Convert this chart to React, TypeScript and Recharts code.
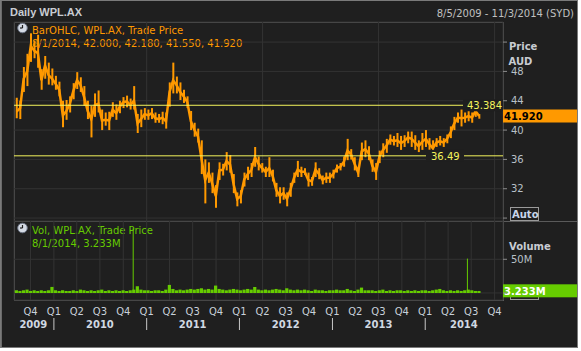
import React from "react";
import {
  Bar,
  CartesianGrid,
  ComposedChart,
  Line,
  ReferenceLine,
  XAxis,
  YAxis,
} from "recharts";

const DAY = 86400000;
const ts = (d: string) => Date.parse(`${d}T00:00:00Z`);

// one bar every two weeks, first one on 7 Aug 2009
const firstBarDate = "2009-08-07";
const barStepDays = 14;
const axisStart = "2009-07-28";
const axisEnd = "2014-11-03";

const priceLow = [
  41.6, 41.5, 45.2, 46.0, 49.3, 49.8, 48.5, 45.5, 47.0, 46.2,
  46.1, 45.5, 44.6, 40.4, 41.4, 42.4, 44.2, 45.6, 45.2, 43.3,
  41.5, 39.0, 41.8, 42.4, 40.0, 40.6, 40.0, 41.8, 41.4, 42.3,
  43.0, 43.1, 42.8, 42.8, 39.6, 40.4, 41.4, 41.4, 41.5, 41.0,
  41.0, 40.8, 40.2, 43.2, 45.0, 45.0, 44.1, 43.7, 43.0, 40.0,
  39.1, 38.3, 34.0, 30.0, 32.8, 31.4, 29.4, 33.2, 33.8, 34.5,
  34.2, 31.4, 29.6, 30.0, 32.3, 33.2, 33.6, 35.0, 34.5, 34.2,
  33.6, 33.6, 33.0, 30.9, 30.0, 30.5, 29.6, 30.9, 32.8, 33.6,
  33.6, 33.9, 32.3, 32.4, 33.6, 33.3, 32.6, 32.8, 32.8, 33.4,
  34.2, 34.5, 35.0, 35.9, 36.0, 34.5, 33.6, 35.9, 36.3, 35.9,
  34.3, 33.2, 35.5, 36.3, 36.9, 38.0, 37.9, 37.7, 37.3, 37.7,
  38.2, 37.7, 37.3, 37.0, 37.3, 37.7, 37.3, 36.49, 37.7, 37.9,
  37.7, 38.2, 38.9, 40.0, 41.0, 40.5, 41.0, 41.2, 41.0, 41.8, 41.55,
];

const priceHigh = [
  44.4, 44.0, 48.6, 50.4, 53.2, 52.2, 53.0, 48.3, 50.1, 49.2,
  48.4, 47.4, 46.6, 44.0, 44.1, 44.6, 46.4, 47.9, 47.2, 46.0,
  44.0, 43.3, 45.0, 45.4, 42.8, 42.4, 42.5, 43.8, 43.5, 44.0,
  44.5, 44.7, 44.3, 46.0, 42.2, 42.8, 43.0, 42.8, 43.0, 42.4,
  42.2, 42.5, 42.4, 46.5, 49.2, 47.3, 46.5, 45.5, 44.6, 42.6,
  41.0, 40.2, 38.6, 36.0, 35.6, 34.2, 32.5, 35.6, 35.4, 37.0,
  36.6, 34.0, 31.5, 31.8, 34.2, 35.0, 35.5, 37.7, 36.4, 35.5,
  35.0, 36.3, 34.6, 32.8, 32.2, 32.2, 31.5, 32.8, 34.2, 35.8,
  35.0, 34.8, 34.2, 33.6, 35.6, 34.8, 33.8, 34.2, 34.2, 34.6,
  35.3, 35.5, 36.4, 38.8, 37.4, 36.3, 35.0, 38.3, 38.6, 37.8,
  36.0, 35.5, 37.2, 38.2, 38.8, 39.4, 39.2, 39.6, 39.2, 39.3,
  39.8, 39.8, 39.3, 38.6, 39.6, 40.0, 38.9, 38.6, 38.9, 39.2,
  38.9, 39.4, 40.5, 41.8, 42.4, 42.8, 42.4, 42.6, 42.4, 43.384, 42.18,
];

// typical close inside each two-week bar
const priceClose = [
  42.5, 43.0, 47.0, 48.0, 51.5, 50.8, 50.5, 46.8, 48.8, 47.5,
  47.0, 46.3, 45.5, 42.0, 42.6, 43.6, 45.4, 46.8, 46.1, 44.5,
  42.6, 41.5, 43.4, 43.6, 41.3, 41.4, 41.3, 42.8, 42.3, 43.2,
  43.8, 43.9, 43.4, 44.0, 40.9, 41.5, 42.2, 42.0, 42.3, 41.6,
  41.5, 41.7, 41.2, 45.2, 46.8, 46.1, 45.2, 44.6, 43.8, 41.2,
  40.0, 39.1, 36.0, 33.2, 34.2, 32.7, 31.0, 34.5, 34.6, 35.8,
  35.3, 32.6, 30.6, 31.0, 33.3, 34.0, 34.6, 36.3, 35.4, 34.8,
  34.3, 34.8, 33.7, 31.8, 31.0, 31.4, 30.6, 31.9, 33.5, 34.6,
  34.3, 34.3, 33.2, 33.0, 34.6, 34.0, 33.2, 33.5, 33.5, 34.0,
  34.8, 35.0, 35.7, 37.2, 36.7, 35.4, 34.2, 37.1, 37.4, 36.8,
  35.1, 34.3, 36.4, 37.3, 37.9, 38.7, 38.5, 38.6, 38.2, 38.5,
  39.0, 38.8, 38.3, 37.8, 38.4, 38.8, 38.1, 37.5, 38.3, 38.5,
  38.3, 38.8, 39.7, 40.9, 41.7, 41.6, 41.7, 41.9, 41.7, 42.6, 41.92,
];

// volume in millions of shares
const volumeM = [
  4, 3, 4, 5, 3, 4, 3, 4, 3, 4,
  9, 4, 3, 4, 3, 3, 4, 3, 5, 4,
  3, 4, 3, 4, 5, 3, 4, 3, 4, 3,
  4, 3, 4, 5, 10, 5, 4, 4, 3, 4,
  4, 3, 5, 12, 6, 4, 5, 4, 5, 6,
  5, 6, 7, 5, 6, 5, 11, 6, 5, 4,
  5, 6, 5, 4, 5, 6, 5, 9, 5, 4,
  5, 4, 5, 6, 5, 4, 7, 5, 4, 5,
  4, 5, 4, 3, 5, 4, 4, 3, 4, 4,
  5, 4, 4, 6, 4, 3, 5, 8, 4, 4,
  4, 3, 4, 5, 3, 4, 3, 4, 4, 3,
  4, 3, 4, 3, 4, 4, 3, 4, 5, 6,
  4, 3, 4, 3, 4, 3, 4, 5, 4, 3, 3,
];

const spikeDates = ["2010-11-09", "2014-06-16"];
const spikeVolumeM = [96, 51];

const lastBarDate = "8/1/2014";
const lastOpen = 42.0;
const lastHigh = 42.18;
const lastLow = 41.55;
const lastClose = 41.92;
const lastVolumeM = 3.233;
const periodHigh = 43.384;
const periodLow = 36.49;

const priceTicks = [28, 32, 36, 40, 44, 48, 52];
const priceLabelTicks = [32, 36, 40, 44, 48];
const volumeTicks = [0, 50];

const quarterDates = [
  "2009-10-01",
  "2010-01-01", "2010-04-01", "2010-07-01", "2010-10-01",
  "2011-01-01", "2011-04-01", "2011-07-01", "2011-10-01",
  "2012-01-01", "2012-04-01", "2012-07-01", "2012-10-01",
  "2013-01-01", "2013-04-01", "2013-07-01", "2013-10-01",
  "2014-01-01", "2014-04-01", "2014-07-01", "2014-10-01",
];
const yearLabels = ["2009", "2010", "2011", "2012", "2013", "2014"];
const yearLabelDates = [
  "2009-10-12", "2010-07-01", "2011-07-01", "2012-07-01", "2013-07-01", "2014-06-02",
];

const BG = "#1f1f1f";
const GRID = "#333333";
const FRAME = "#5a5a5a";
const ORANGE = "#ff9900";
const GREEN = "#66cc00";
const YELLOW = "#f4f45c";
const AXIS_TEXT = "#b8c0c8";
const FONT = "'DejaVu Sans', Verdana, sans-serif";

const start = ts(firstBarDate);
const priceData = priceLow.map((lo, i) => ({
  t: start + i * barStepDays * DAY,
  range: [lo, priceHigh[i]],
  close: priceClose[i],
}));
const volumeData = volumeM.map((v, i) => ({
  t: start + i * barStepDays * DAY,
  vol: v,
}));
const xDomain = [ts(axisStart), ts(axisEnd)];
const quarterTimes = quarterDates.map(ts);
const yearLabelTimes = yearLabelDates.map(ts);

function PriceTick({ x, y, payload }: any) {
  if (!priceLabelTicks.includes(payload.value)) return <g />;
  return (
    <text x={x} y={y + 3.6} fill={AXIS_TEXT} fontSize={10} fontFamily={FONT}>
      {payload.value}
    </text>
  );
}

function VolumeTick({ x, y, payload }: any) {
  if (payload.value === 0) return <g />;
  return (
    <text x={x} y={y + 3.6} fill={AXIS_TEXT} fontSize={10} fontFamily={FONT}>
      {`${payload.value}M`}
    </text>
  );
}

function QuarterTick({ x, y, payload }: any) {
  const d = new Date(payload.value);
  const m = d.getUTCMonth();
  return (
    <g>
      <text x={x} y={y + 15} textAnchor="middle" fill="#c8d0da" fontSize={10} fontFamily={FONT}>
        {`Q${Math.floor(m / 3) + 1}`}
      </text>
      {m === 0 && <line x1={x} x2={x} y1={y + 18} y2={y + 30} stroke="#c8c8c8" />}
    </g>
  );
}

function YearTick({ x, y, payload }: any) {
  const i = yearLabelTimes.indexOf(payload.value);
  return (
    <text
      x={x}
      y={y + 16}
      textAnchor="middle"
      fill="#d0d8e2"
      fontSize={10}
      fontWeight="bold"
      fontFamily={FONT}
    >
      {yearLabels[i]}
    </text>
  );
}

function LevelTag({ viewBox, text, dx, gapX, gapW }: any) {
  const { x, y } = viewBox;
  return (
    <g>
      <rect x={x + gapX} y={y - 6} width={gapW} height={12} fill={BG} />
      <text x={x + dx} y={y + 3.8} fill={YELLOW} fontSize={10} fontFamily={FONT}>
        {text}
      </text>
    </g>
  );
}

function ValueTag({ viewBox, text, fill, color }: any) {
  const { x, y, width } = viewBox;
  const right = x + width;
  return (
    <g>
      <rect x={right} y={y - 6.5} width={74} height={13} fill={fill} />
      <text
        x={right + 1}
        y={y + 3.8}
        fill={color}
        fontSize={10}
        fontWeight="bold"
        fontFamily={FONT}
      >
        {text}
      </text>
    </g>
  );
}

function Clock({ cx, cy }: { cx: number; cy: number }) {
  return (
    <g>
      <circle cx={cx} cy={cy} r={4.8} fill="#d4dae4" stroke="#6a7282" strokeWidth={1} />
      <line x1={cx} y1={cy} x2={cx} y2={cy - 3} stroke="#202020" strokeWidth={1.2} />
      <line x1={cx} y1={cy} x2={cx - 2.5} y2={cy} stroke="#202020" strokeWidth={1.2} />
    </g>
  );
}

export default function App() {
  return (
    <div style={{ position: "absolute", left: 0, top: 0, width: 581, height: 351, background: "#fff" }}>
      <svg
        width={578}
        height={348}
        style={{ position: "absolute", left: 0, top: 0 }}
        fontFamily={FONT}
      >
        <rect x={0.5} y={0.5} width={577} height={347} fill={BG} stroke="#7a7a7a" />
        <line x1={1.5} y1={1} x2={1.5} y2={347} stroke="#6a6a6a" />
        <text x={10} y={16} fill="#c8ccd2" fontSize={11} fontWeight="bold" fontFamily="'Liberation Sans', Arial, sans-serif">
          Daily WPL.AX
        </text>
        <text x={574} y={16.5} textAnchor="end" fill="#c0c0c0" fontSize={10}>
          8/5/2009 - 11/3/2014 (SYD)
        </text>
        <rect x={14.5} y={22.5} width={489} height={278} fill="none" stroke={FRAME} />
        <line x1={14} y1={221.5} x2={577} y2={221.5} stroke={FRAME} />

        <Clock cx={22.5} cy={28} />
        <text x={32} y={34} fill={ORANGE} fontSize={10}>
          BarOHLC, WPL.AX, Trade Price
        </text>
        <text x={32} y={47} fill={ORANGE} fontSize={10}>
          {`${lastBarDate}, ${lastOpen.toFixed(3)}, ${lastHigh.toFixed(3)}, ${lastLow.toFixed(3)}, ${lastClose.toFixed(3)}`}
        </text>
        <Clock cx={22.5} cy={228} />
        <text x={32} y={233.5} fill={GREEN} fontSize={10}>
          Vol, WPL.AX, Trade Price
        </text>
        <text x={32} y={247} fill={GREEN} fontSize={10}>
          {`${lastBarDate}, ${lastVolumeM.toFixed(3)}M`}
        </text>

        <text x={509} y={50} fill="#c8ccd2" fontSize={10} fontWeight="bold">Price</text>
        <text x={508.5} y={65} fill="#c8ccd2" fontSize={10} fontWeight="bold">AUD</text>
        <text x={509} y={250} fill="#c8ccd2" fontSize={10} fontWeight="bold">Volume</text>
        <rect x={510.5} y={207.5} width={28} height={13} fill="none" stroke="#9a9a9a" />
        <text x={512} y={218} fill="#c8d4e8" fontSize={10} fontWeight="bold">Auto</text>
        <rect x={510.5} y={286.5} width={28} height={13} fill="none" stroke="#9a9a9a" />
      </svg>

      <div style={{ position: "absolute", left: 0, top: 0 }}>
        <ComposedChart
          width={578}
          height={221}
          data={priceData}
          margin={{ top: 22, right: 0, bottom: 0, left: 14 }}
        >
          <XAxis
            type="number"
            dataKey="t"
            domain={xDomain}
            ticks={quarterTimes}
            allowDataOverflow
            hide
          />
          <YAxis
            orientation="right"
            type="number"
            width={75}
            domain={[27.6, 54.74]}
            ticks={priceTicks}
            interval={0}
            allowDataOverflow
            axisLine={false}
            tickLine={{ stroke: "#8c8c8c" }}
            tickSize={4}
            tickMargin={4}
            tick={<PriceTick />}
          />
          <CartesianGrid stroke={GRID} />
          <Bar dataKey="range" fill={ORANGE} barSize={2} isAnimationActive={false} />
          <Line
            type="linear"
            dataKey="close"
            stroke={ORANGE}
            strokeWidth={2.5}
            dot={false}
            activeDot={false}
            isAnimationActive={false}
          />
          <ReferenceLine
            y={periodHigh}
            stroke={YELLOW}
            label={<LevelTag text={periodHigh.toFixed(3)} dx={453} gapX={449} gapW={40} />}
          />
          <ReferenceLine
            y={periodLow}
            stroke={YELLOW}
            label={<LevelTag text={periodLow.toFixed(2)} dx={417} gapX={412} gapW={38} />}
          />
          <ReferenceLine
            y={lastClose}
            stroke="none"
            label={<ValueTag text={lastClose.toFixed(3)} fill={ORANGE} color="#000" />}
          />
        </ComposedChart>
      </div>

      <div style={{ position: "absolute", left: 0, top: 221 }}>
        <ComposedChart
          width={578}
          height={109}
          data={volumeData}
          margin={{ top: 0, right: 0, bottom: 0, left: 14 }}
        >
          <XAxis
            type="number"
            dataKey="t"
            domain={xDomain}
            ticks={quarterTimes}
            interval={0}
            allowDataOverflow
            axisLine={false}
            tickLine={false}
            tickSize={0}
            tickMargin={0}
            height={12}
            tick={<QuarterTick />}
          />
          <XAxis
            xAxisId="yr"
            type="number"
            dataKey="t"
            domain={xDomain}
            ticks={yearLabelTimes}
            interval={0}
            allowDataOverflow
            axisLine={false}
            tickLine={false}
            tickSize={0}
            tickMargin={0}
            height={18}
            tick={<YearTick />}
          />
          <YAxis
            orientation="right"
            type="number"
            width={75}
            domain={[-10.4, 106.8]}
            ticks={volumeTicks}
            interval={0}
            allowDataOverflow
            axisLine={false}
            tickLine={{ stroke: "#8c8c8c" }}
            tickSize={4}
            tickMargin={4}
            tick={<VolumeTick />}
          />
          <CartesianGrid stroke={GRID} />
          <Bar dataKey="vol" fill={GREEN} barSize={4} isAnimationActive={false} />
          {spikeDates.map((d, i) => (
            <ReferenceLine
              key={d}
              segment={[
                { x: ts(d), y: 0 },
                { x: ts(d), y: spikeVolumeM[i] },
              ]}
              stroke={GREEN}
            />
          ))}
          <ReferenceLine
            y={lastVolumeM}
            stroke="none"
            label={<ValueTag text={`${lastVolumeM.toFixed(3)}M`} fill={GREEN} color="#fff" />}
          />
        </ComposedChart>
      </div>
    </div>
  );
}
